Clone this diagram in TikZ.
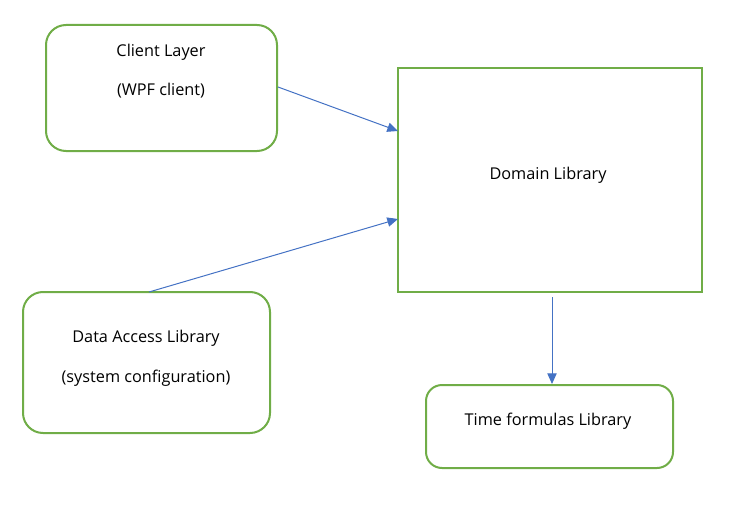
\documentclass[tikz,border=0pt]{standalone}
\usepackage{fontspec}
\setmainfont{Open Sans}
\usetikzlibrary{arrows.meta}
\definecolor{boxgreen}{HTML}{70AD47}
\definecolor{arrowblue}{HTML}{4472C4}
\begin{document}
\begin{tikzpicture}[x=0.75pt,y=-0.75pt,
  rbox/.style={draw=boxgreen,line width=1.5pt,rounded corners=15pt},
  sbox/.style={draw=boxgreen,line width=1.5pt},
  lbl/.style={font=\fontsize{12.2pt}{14pt}\selectfont,text=black},
  conn/.style={draw=arrowblue,line width=0.75pt,-{Triangle[length=8pt,width=7pt]}}]
\useasboundingbox (0,0) rectangle (735,510);
% boxes
\draw[rbox] (46,25) rectangle (277,151);
\draw[sbox] (398,68) rectangle (702,292);
\draw[rbox] (23,292) rectangle (270,433);
\draw[rbox,rounded corners=12pt] (426,385) rectangle (673,468);
% labels
\node[lbl] (cl1) at (161,52) {Client Layer};
\node[lbl] (cl2) at (161,91) {(WPF client)};
\node[lbl] (dom) at (548,175) {Domain Library};
\node[lbl] (da1) at (146,338) {Data Access Library};
\node[lbl] (da2) at (146,378) {(system configuration)};
\node[lbl] (tf) at (548,421) {Time formulas Library};
% connector endpoints
\coordinate (a1s) at (278,87);
\coordinate (a1e) at (398,131);
\coordinate (a2s) at (149,292);
\coordinate (a2e) at (398,219);
\coordinate (a3s) at (552,297);
\coordinate (a3e) at (552,384);
\draw[conn] (a1s) -- (a1e);
\draw[conn] (a2s) -- (a2e);
\draw[conn] (a3s) -- (a3e);
\end{tikzpicture}
\end{document}
